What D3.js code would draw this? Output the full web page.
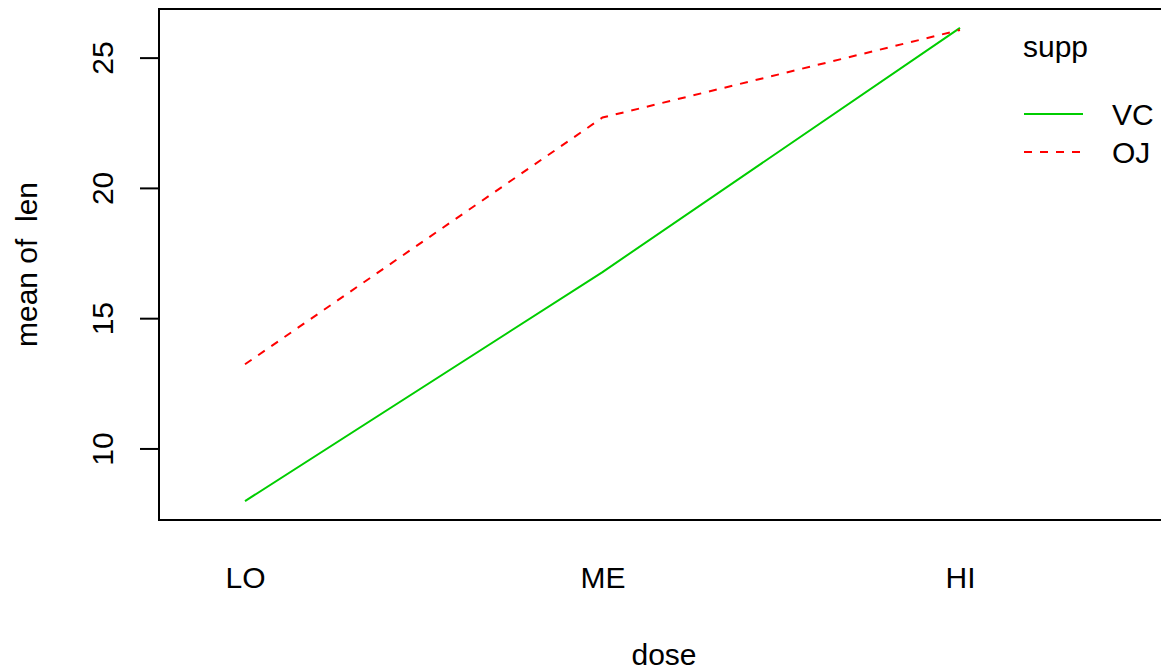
<!DOCTYPE html>
<html>
<head>
<meta charset="utf-8">
<script src="https://cdn.jsdelivr.net/npm/d3@7"></script>
<style>
  body { margin: 0; background: #fff; }
  svg text { font-family: "Liberation Sans", Arial, sans-serif; fill: #000; }
</style>
</head>
<body>
<svg id="chart" width="1161" height="672"></svg>
<script>
// ToothGrowth interaction plot: mean of len by dose and supp
const doses = ["LO", "ME", "HI"];
const vcMeans = [7.98, 16.77, 26.14];
const ojMeans = [13.23, 22.70, 26.06];
const yTicks = [10, 15, 20, 25];
const suppLevels = ["VC", "OJ"];

const svg = d3.select("#chart");
const fontSize = 30;

// plot box (right edge runs past the window, as in the reference)
const box = { left: 159, top: 9, right: 1169, bottom: 520 };

const x = d3.scalePoint().domain(doses).range([245, 960]);
const y = d3.scaleLinear().domain([7.254, 26.866]).range([box.bottom, box.top]);

const series = [
  { name: suppLevels[0], values: vcMeans, color: "#00cd00", dash: null },
  { name: suppLevels[1], values: ojMeans, color: "#ff0000", dash: "8,8" }
];

const line = d3.line()
  .x((d, i) => x(doses[i]))
  .y(d => y(d));

svg.selectAll("path.series")
  .data(series)
  .join("path")
  .attr("class", "series")
  .attr("d", d => line(d.values))
  .attr("fill", "none")
  .attr("stroke", d => d.color)
  .attr("stroke-width", 2)
  .attr("stroke-dasharray", d => d.dash);

// box
svg.append("rect")
  .attr("x", box.left)
  .attr("y", box.top)
  .attr("width", box.right - box.left)
  .attr("height", box.bottom - box.top)
  .attr("fill", "none")
  .attr("stroke", "#000")
  .attr("stroke-width", 2);

// y axis
const yAxis = svg.append("g")
  .attr("transform", `translate(${box.left},0)`)
  .call(d3.axisLeft(y).tickValues(yTicks).tickSize(19).tickSizeOuter(0).tickFormat(d3.format("d")));
yAxis.select(".domain").remove();
yAxis.selectAll(".tick line").attr("stroke-width", 2);
yAxis.selectAll(".tick text")
  .attr("x", null).attr("dy", null)
  .attr("font-size", fontSize)
  .attr("text-anchor", "middle")
  .attr("transform", "translate(-46,0) rotate(-90)");

// x axis labels (no tick marks)
const xAxis = svg.append("g")
  .attr("transform", `translate(0,${box.bottom})`)
  .call(d3.axisBottom(x).tickSize(0));
xAxis.select(".domain").remove();
xAxis.selectAll(".tick text")
  .attr("y", 68).attr("dy", null)
  .attr("font-size", fontSize);

// axis titles
svg.append("text")
  .attr("x", (box.left + box.right) / 2)
  .attr("y", 665)
  .attr("text-anchor", "middle")
  .attr("font-size", fontSize)
  .text("dose");

svg.append("text")
  .attr("transform", `translate(37,${(box.top + box.bottom) / 2}) rotate(-90)`)
  .attr("text-anchor", "middle")
  .attr("font-size", fontSize)
  .attr("xml:space", "preserve")
  .style("white-space", "pre")
  .text("mean of  len");

// legend
const legend = svg.append("g");
legend.append("text")
  .attr("x", 1023)
  .attr("y", 57)
  .attr("font-size", fontSize)
  .text("supp");

const legendRows = legend.selectAll("g.row")
  .data(series)
  .join("g")
  .attr("class", "row")
  .attr("transform", (d, i) => `translate(0,${114 + i * 38})`);
legendRows.append("line")
  .attr("x1", 1024).attr("x2", 1083)
  .attr("stroke", d => d.color)
  .attr("stroke-width", 2)
  .attr("stroke-dasharray", d => d.dash);
legendRows.append("text")
  .attr("x", 1112)
  .attr("y", 11)
  .attr("font-size", fontSize)
  .text(d => d.name);
</script>
</body>
</html>
